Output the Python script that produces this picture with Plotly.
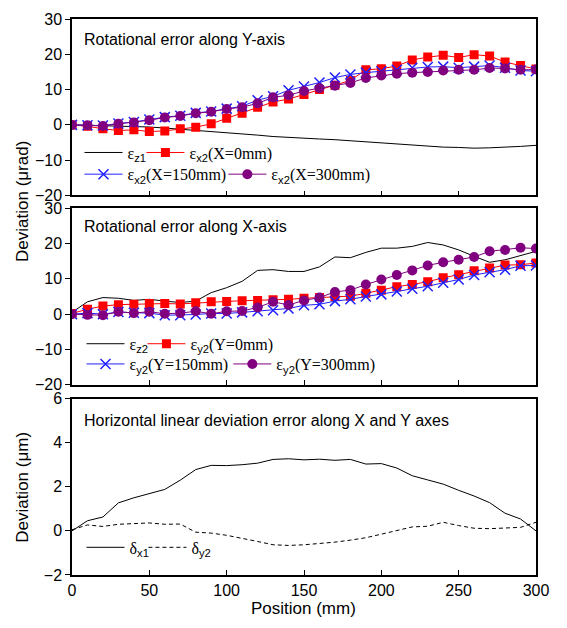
import plotly.graph_objects as go

POSITION = list(range(0, 301, 10))

# Panel 1: rotational error along Y-axis (µrad)
EZ1 = [0, -0.1, -0.2, -0.2, -0.3, -0.6, -0.9, -1.2, -1.6, -2.0, -2.1, -2.5, -2.9, -3.3, -3.6, -3.7,
       -4.0, -4.2, -4.5, -5.0, -5.1, -5.4, -5.7, -6.1, -6.3, -6.4, -6.6, -6.5, -6.4, -6.1, -5.8]
EX2_X0 = [0, -0.4, -1.1, -1.6, -1.4, -1.9, -1.7, -1.1, -0.65, 0.3, 1.9, 3.3, 5.0, 6.5, 7.3, 8.6,
          10.0, 11.2, 12.6, 15.6, 15.9, 16.7, 18.4, 19.2, 19.7, 19.1, 19.9, 19.5, 17.8, 16.8, 15.8]
EX2_X150 = [0, -0.1, -0.2, 0.4, 0.8, 1.5, 2.2, 2.6, 3.4, 3.8, 4.6, 5.3, 7.0, 8.1, 9.8, 10.9,
            12.0, 13.4, 14.3, 14.8, 15.2, 15.6, 16.2, 16.4, 16.5, 16.2, 16.5, 16.8, 16.2, 15.4, 15.2]
EX2_X300 = [0, -0.1, -0.3, 0.3, 0.7, 1.3, 2.1, 2.5, 3.3, 3.7, 4.5, 5.0, 6.1, 7.8, 8.4, 9.6,
            10.4, 11.1, 11.9, 13.3, 14.0, 14.5, 14.8, 15.0, 15.4, 15.6, 15.6, 16.1, 16.0, 15.6, 15.7]

# Panel 2: rotational error along X-axis (µrad)
EZ2 = [0.5, 3.5, 4.7, 4.5, 3.9, 4.2, 3.7, 3.3, 3.7, 6.1, 7.5, 9.3, 12.4, 12.6, 12.1, 12.1,
       13.4, 16.2, 16.0, 17.5, 18.7, 18.7, 19.2, 20.3, 19.6, 18.2, 16.4, 14.7, 15.4, 16.5, 17.8]
EY2_Y0 = [0.2, 1.4, 2.3, 2.7, 2.8, 3.0, 3.0, 2.9, 3.2, 3.5, 3.6, 3.8, 3.9, 4.1, 4.2, 4.5,
          4.7, 5.0, 5.1, 5.9, 6.8, 7.8, 8.4, 9.2, 10.3, 11.2, 12.3, 13.1, 13.9, 14.0, 14.5]
EY2_Y150 = [0, 0.3, 0, 0.6, 0.4, 0.3, -0.3, -0.3, -0.1, 0.2, 0.2, 0.5, 0.8, 1.1, 1.6, 2.5,
            2.8, 3.7, 4.2, 5.0, 5.6, 6.4, 7.2, 7.9, 8.9, 9.8, 11.1, 11.9, 12.6, 13.7, 13.8]
EY2_Y300 = [0, -0.2, -0.3, 0.7, 0.3, 0.7, 0.1, 0.3, 0.8, 0.1, 0.8, 0.9, 1.9, 3.5, 2.6, 3.9,
            4.7, 6.3, 6.8, 8.4, 9.8, 11.1, 12.4, 13.8, 14.7, 15.4, 16.2, 17.8, 18.2, 18.8, 18.6]

# Panel 3: horizontal linear deviation (µm)
DX1 = [0, 0.46, 0.63, 1.27, 1.5, 1.7, 1.88, 2.3, 2.78, 2.97, 2.96, 3.0, 3.07, 3.24, 3.27, 3.22,
       3.25, 3.2, 3.24, 3.03, 3.05, 2.85, 2.5, 2.31, 2.12, 1.84, 1.58, 1.28, 0.8, 0.54, 0]
DY2 = [0.05, 0.27, 0.2, 0.3, 0.33, 0.36, 0.3, 0.31, -0.06, -0.1, -0.2, -0.33, -0.48, -0.63, -0.66, -0.63,
       -0.58, -0.51, -0.42, -0.31, -0.15, 0, 0.18, 0.21, 0.39, 0.24, 0.12, 0.1, 0.13, 0.16, 0.39]

X_TICKS = [0, 50, 100, 150, 200, 250, 300]
Y_TICKS_RAD = [-20, -10, 0, 10, 20, 30]
Y_TICKS_UM = [-2, 0, 2, 4, 6]

RED = "#ff0000"
BLUE = "#2020ff"
PURPLE = "#800080"

W, H = 567, 628
ML, MR, MT, MB = 71.5, 31, 11, 53
PW = W - ML - MR
PH = H - MT - MB


def px_x(px):
    return (px - ML) / PW


def px_y(py):
    return (H - MB - py) / PH


def sub(sym, s):
    return f"{sym}<sub><span style='font-family:Arial, Liberation Sans'>{s}</span></sub>"


fig = go.Figure()


def line_trace(y, name, xa, ya, leg, dash="solid"):
    return go.Scatter(x=POSITION, y=y, name=name, mode="lines", xaxis=xa, yaxis=ya, legend=leg,
                      showlegend=True, line=dict(color="black", width=1, dash=dash))


def mk_trace(y, name, xa, ya, leg, color, symbol, size):
    mk = dict(color=color, symbol=symbol, size=size)
    if symbol == "x-thin":
        mk["line"] = dict(color=color, width=1.5)
    return go.Scatter(x=POSITION, y=y, name=name, mode="lines+markers", xaxis=xa, yaxis=ya,
                      legend=leg, showlegend=True, line=dict(color=color, width=1), marker=mk)


fig.add_trace(line_trace(EZ1, sub("ε", "z1"), "x", "y", "legend"))
fig.add_trace(mk_trace(EX2_X0, sub("ε", "x2") + "(X=0mm)", "x", "y", "legend2", RED, "square", 9))
fig.add_trace(mk_trace(EX2_X150, sub("ε", "x2") + "(X=150mm)", "x", "y", "legend3", BLUE, "x-thin", 10))
fig.add_trace(mk_trace(EX2_X300, sub("ε", "x2") + "(X=300mm)", "x", "y", "legend4", PURPLE, "circle", 10))

fig.add_trace(line_trace(EZ2, sub("ε", "z2"), "x2", "y2", "legend5"))
fig.add_trace(mk_trace(EY2_Y0, sub("ε", "y2") + "(Y=0mm)", "x2", "y2", "legend6", RED, "square", 9))
fig.add_trace(mk_trace(EY2_Y150, sub("ε", "y2") + "(Y=150mm)", "x2", "y2", "legend7", BLUE, "x-thin", 10))
fig.add_trace(mk_trace(EY2_Y300, sub("ε", "y2") + "(Y=300mm)", "x2", "y2", "legend8", PURPLE, "circle", 10))

fig.add_trace(line_trace(DX1, sub("δ", "x1"), "x3", "y3", "legend9"))
fig.add_trace(line_trace(DY2, sub("δ", "y2"), "x3", "y3", "legend10", dash="4px,3px"))

AX_FONT = dict(family="Arial, Liberation Sans", size=16, color="black")
LEG_FONT = dict(family="Times New Roman, Liberation Serif", size=16, color="black")

common_x = dict(range=[0, 300], tickvals=X_TICKS, ticks="inside", ticklen=5, tickwidth=1,
                showline=True, linecolor="black", linewidth=1.5, mirror=True, showgrid=False,
                zeroline=False, tickfont=AX_FONT, tickcolor="black")
common_y = dict(ticks="outside", ticklen=5, tickwidth=1, showline=True, linecolor="black",
                linewidth=1.5, mirror=True, showgrid=False, zeroline=False, tickfont=AX_FONT,
                tickcolor="black")

d1 = [px_y(190), px_y(11)]
d2 = [px_y(382), px_y(203)]
d3 = [px_y(575), px_y(396)]

layout = dict(
    width=W, height=H,
    margin=dict(l=ML, r=MR, t=MT, b=MB),
    paper_bgcolor="white", plot_bgcolor="white",
    showlegend=True,
    xaxis=dict(common_x, anchor="y", showticklabels=False),
    xaxis2=dict(common_x, anchor="y2", showticklabels=False),
    xaxis3=dict(common_x, anchor="y3"),
    yaxis=dict(common_y, domain=d1, range=[-20, 30], tickvals=Y_TICKS_RAD, anchor="x"),
    yaxis2=dict(common_y, domain=d2, range=[-20, 30], tickvals=Y_TICKS_RAD, anchor="x2"),
    yaxis3=dict(common_y, domain=d3, range=[-2, 6], tickvals=Y_TICKS_UM, anchor="x3"),
)

# legend item placement: (sample start px, center y px)
LEG_POS = [(84, 146.5), (146, 146.5), (84, 168.5), (228, 168.5),
           (86, 340.5), (147, 340.5), (86, 361), (233, 361),
           (86, 547), (148, 547)]
for i, (lx, ly) in enumerate(LEG_POS):
    key = "legend" if i == 0 else f"legend{i + 1}"
    layout[key] = dict(x=px_x(lx - 5), y=px_y(ly), xanchor="left", yanchor="middle",
                       orientation="h", bgcolor="rgba(0,0,0,0)", borderwidth=0,
                       font=LEG_FONT, itemwidth=38, tracegroupgap=0, visible=True)

fig.update_layout(**layout)

TITLE_FONT = dict(family="Arial, Liberation Sans", size=16, color="black")
fig.add_annotation(text="Rotational error along Y-axis", x=px_x(82), y=px_y(32), xref="paper", yref="paper",
                   xanchor="left", yanchor="middle", showarrow=False, font=TITLE_FONT)
fig.add_annotation(text="Rotational error along X-axis", x=px_x(82), y=px_y(221), xref="paper", yref="paper",
                   xanchor="left", yanchor="middle", showarrow=False, font=TITLE_FONT)
fig.add_annotation(text="Horizontal linear deviation error along X and Y axes", x=px_x(82), y=px_y(418),
                   xref="paper", yref="paper", xanchor="left", yanchor="middle", showarrow=False,
                   font=TITLE_FONT)
LAB_FONT = dict(family="Arial, Liberation Sans", size=17, color="black")
fig.add_annotation(text="Deviation (μrad)", x=px_x(22), y=px_y(196), xref="paper", yref="paper",
                   xanchor="center", yanchor="middle", textangle=-90, showarrow=False, font=LAB_FONT)
fig.add_annotation(text="Deviation (μm)", x=px_x(22), y=px_y(486), xref="paper", yref="paper",
                   xanchor="center", yanchor="middle", textangle=-90, showarrow=False, font=LAB_FONT)
fig.add_annotation(text="Position (mm)", x=px_x(303), y=px_y(609), xref="paper", yref="paper",
                   xanchor="center", yanchor="middle", showarrow=False, font=LAB_FONT)

fig.write_html("out.html")
